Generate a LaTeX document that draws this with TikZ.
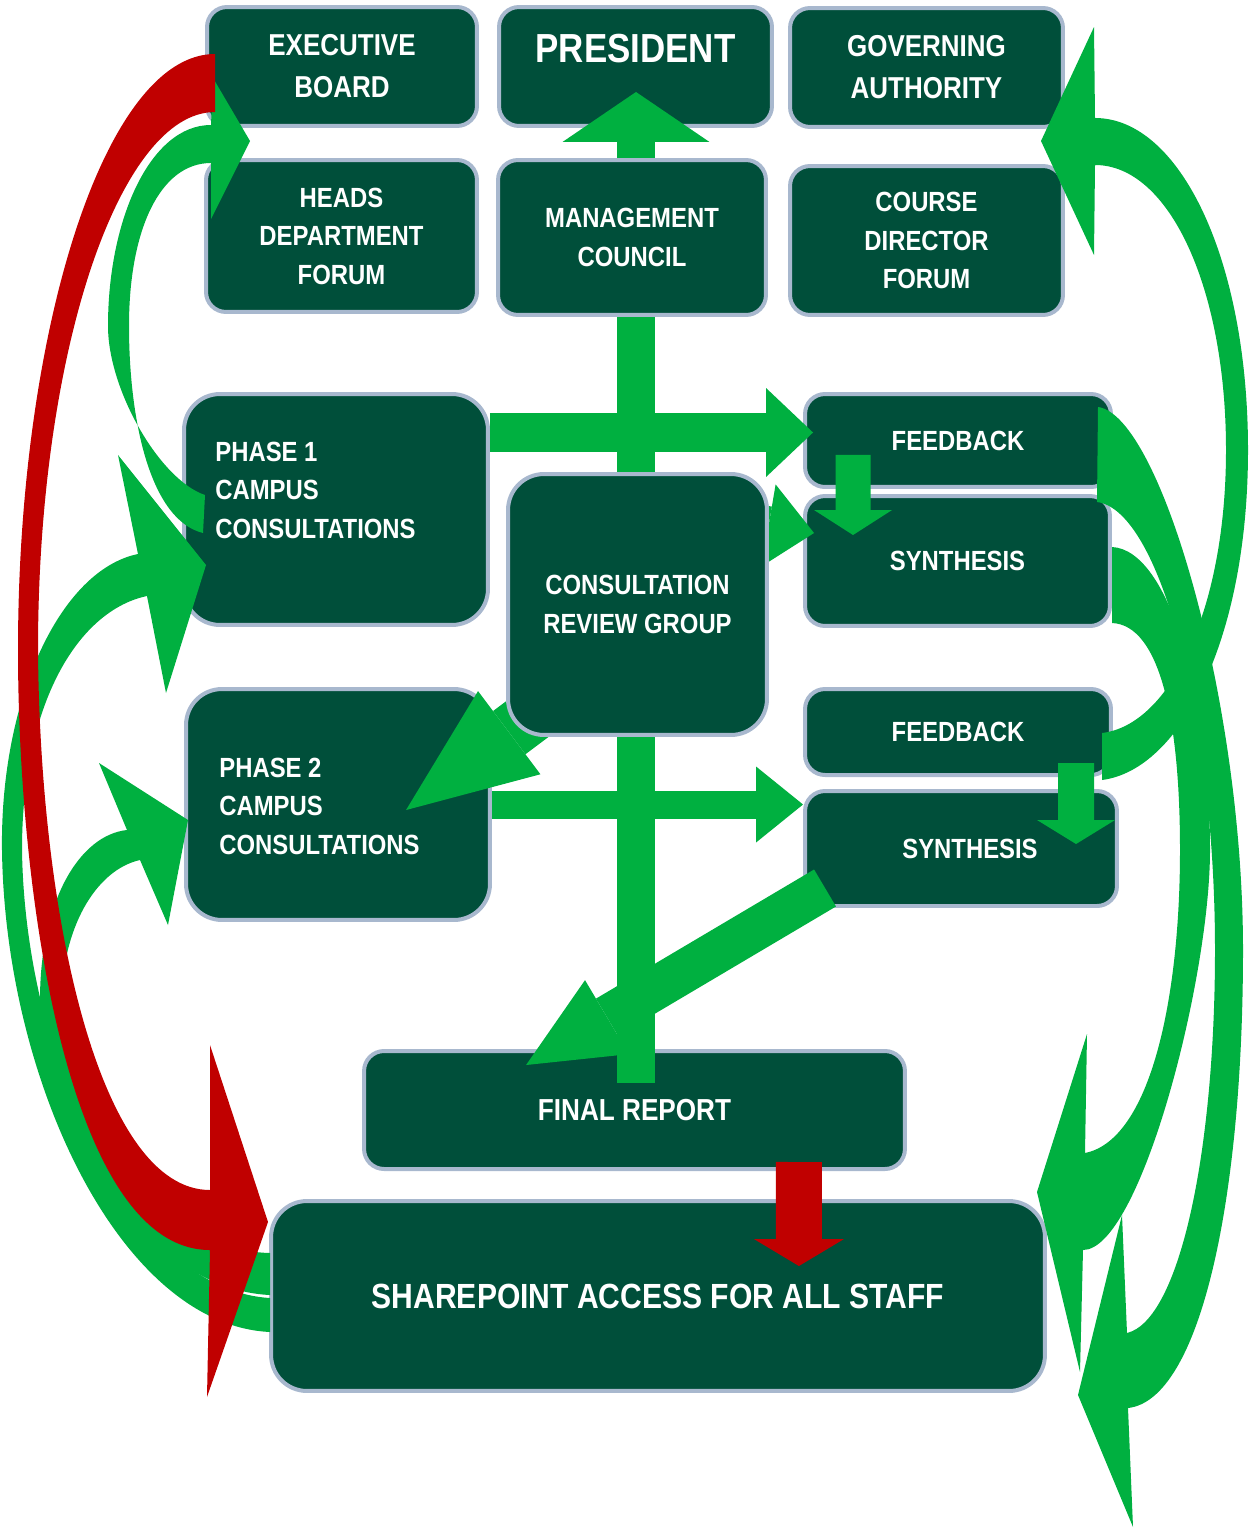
\documentclass[tikz,border=0pt]{standalone}
\usepackage{fontspec}
\setmainfont{Liberation Sans}[FakeStretch=0.86]
\usetikzlibrary{calc,arrows.meta}

\definecolor{boxgreen}{RGB}{0,79,58}
\definecolor{boxedge}{RGB}{168,184,206}
\definecolor{arrowgreen}{RGB}{0,176,64}
\definecolor{arrowred}{RGB}{192,0,0}

\newcommand{\lblfont}{\bfseries\fontsize{15.8}{21.9}\selectfont}
\newcommand{\toplblfont}{\bfseries\fontsize{17.2}{23.9}\selectfont}
\newcommand{\presfont}{\bfseries\fontsize{23.1}{26}\selectfont}
\newcommand{\reportfont}{\bfseries\fontsize{17.3}{20}\selectfont}
\newcommand{\sharefont}{\bfseries\fontsize{19.9}{23}\selectfont}

\tikzset{
  orgbox/.style={draw=boxedge, fill=boxgreen, line width=0.08cm, rounded corners=0.4cm,
    text=white, align=center, inner sep=0pt, font=\lblfont},
  bigorgbox/.style={orgbox, rounded corners=0.72cm},
  boxlabel/.style={text=white, inner sep=0pt, align=left, anchor=west, font=\lblfont},
  greenbar/.style={arrowgreen, line width=#1},
  redbar/.style={arrowred, line width=#1},
  blockhead/.style 2 args={-{Triangle[length=#1, width=#2, line width=0pt]}},
}

\begin{document}
\begin{tikzpicture}[x=0.02cm, y=-0.02cm]
\useasboundingbox (0,0) rectangle (1250,1528);

% Boxes
\node[orgbox, font=\toplblfont, minimum width=5.40cm, minimum height=2.38cm] (exec) at (342,66.5) {EXECUTIVE\\BOARD};
\node[orgbox, minimum width=5.46cm, minimum height=2.38cm] (pres) at (635.5,66.5) {};
\node[boxlabel, font=\presfont, anchor=center] (pres-label) at (635.5,49) {PRESIDENT};
\node[orgbox, font=\toplblfont, minimum width=5.46cm, minimum height=2.38cm] (gov) at (926.5,67.5) {GOVERNING\\AUTHORITY};
\node[orgbox, minimum width=5.42cm, minimum height=3.04cm] (heads) at (341.5,236) {HEADS\\DEPARTMENT\\FORUM};
\node[orgbox, minimum width=5.36cm, minimum height=3.10cm] (mgmt) at (632,237.5) {MANAGEMENT\\COUNCIL};
\node[orgbox, minimum width=5.46cm, minimum height=2.98cm] (course) at (926.5,240.5) {COURSE\\DIRECTOR\\FORUM};
\node[bigorgbox, minimum width=6.08cm, minimum height=4.62cm] (phase1) at (336,509.5) {};
\node[boxlabel] (phase1-label) at (215,490) {PHASE 1\\CAMPUS\\CONSULTATIONS};
\node[bigorgbox, minimum width=6.08cm, minimum height=4.62cm] (phase2) at (338,804.5) {};
\node[boxlabel] (phase2-label) at (219,806) {PHASE 2\\CAMPUS\\CONSULTATIONS};
\node[orgbox, minimum width=6.12cm, minimum height=1.86cm] (fb1) at (958,440.5) {FEEDBACK};
\node[orgbox, minimum width=6.10cm, minimum height=2.60cm] (syn1) at (957.5,561) {SYNTHESIS};
\node[orgbox, minimum width=6.12cm, minimum height=1.72cm] (fb2) at (958,732) {FEEDBACK};
\node[orgbox, minimum width=6.24cm, minimum height=2.30cm] (syn2) at (961,848.5) {\hspace{0.36cm}SYNTHESIS};
\node[orgbox, font=\reportfont, minimum width=10.82cm, minimum height=2.36cm] (final) at (634.5,1110) {FINAL REPORT};
\node[bigorgbox, font=\sharefont, minimum width=15.48cm, minimum height=3.80cm] (share) at (658,1296) {SHAREPOINT ACCESS FOR ALL STAFF};

% Spine, and the arrows that leave from under the review group
\coordinate (spine) at (636,0);
\coordinate (spine-end) at ($(final.north -| spine)+(0,34)$);
\coordinate (crg-pos) at (637.5,604.5);
\draw[greenbar=0.76cm] (mgmt.south -| spine) -- (spine-end);
\draw[greenbar=0.76cm, blockhead={0.92cm}{1.66cm}] ($(crg-pos)+(20,-98)$) -- ($(syn1.west)+(11,-28)$);
\draw[greenbar=1.08cm, blockhead={2.58cm}{2.08cm}] ($(crg-pos)+(-40,62)$) -- ($(phase2.north west)+(222,123)$);

\node[bigorgbox, minimum width=5.18cm, minimum height=5.22cm] (crg) at (crg-pos) {CONSULTATION\\REVIEW GROUP};

% Council up to the president
\draw[greenbar=0.76cm, blockhead={1cm}{2.94cm}] (mgmt.north -| spine) -- ($(pres.south -| spine)+(0,-36)$);

% Phases out to feedback and synthesis
\coordinate (fb1-tip) at ($(fb1.west)+(10,-8)$);
\draw[greenbar=0.78cm, blockhead={0.94cm}{1.78cm}] (phase1.east |- fb1-tip) -- (fb1-tip);
\draw[greenbar=0.56cm, blockhead={0.94cm}{1.52cm}] (phase2.east) -- (phase2.east -| syn2.west);

% Feedback down to synthesis
\draw[greenbar=0.70cm, blockhead={0.5cm}{1.56cm}] ($(fb1.south west)+(50,-34)$) -- ($(syn1.north west)+(50,41)$);
\draw[greenbar=0.72cm, blockhead={0.48cm}{1.56cm}] ($(fb2.south west)+(273,-14)$) -- ($(syn2.north west)+(273,55)$);

% Synthesis to the report, report to sharepoint
\draw[greenbar=0.86cm, blockhead={1.88cm}{1.72cm}] ($(syn2.south west)+(22,-20)$) -- ($(final.north west)+(164,16)$);
\draw[redbar=0.92cm, blockhead={0.54cm}{1.8cm}] ($(final.south east)+(-108,-9)$) -- ($(share.north east)+(-248,67)$);

% Curved loops, left side
% phase 1 up to the executive board
\fill[arrowgreen] (211,125) .. controls (150,125) and (108,220) .. (108,326)
  .. controls (108,390) and (160,480) .. (205,495) -- (203,533)
  .. controls (150,520) and (129,420) .. (129,326)
  .. controls (129,230) and (160,163) .. (211,163)
  -- (211,219) -- (250,141) -- (213,78) -- cycle;
% sharepoint round to phase 1
\fill[arrowgreen] (270,1332) .. controls (120,1325) and (5,1080) .. (2,850)
  .. controls (0,700) and (60,570) .. (138,554)
  -- (118,455) -- (206,565) -- (166,693) -- (147,596)
  .. controls (80,610) and (22,700) .. (22,850)
  .. controls (25,1060) and (130,1290) .. (270,1298) -- cycle;
% sharepoint round to phase 2
\fill[arrowgreen] (270,1295) .. controls (150,1290) and (40,1130) .. (40,1000)
  .. controls (40,900) and (80,835) .. (127,830)
  -- (99,763) -- (188,820) -- (168,925) -- (140,860)
  .. controls (95,870) and (62,930) .. (62,1000)
  .. controls (62,1120) and (150,1250) .. (270,1253) -- cycle;

% Curved loops, right side
% second feedback up to the governing authority
\fill[arrowgreen] (1102,780) .. controls (1180,770) and (1248,640) .. (1248,450)
  .. controls (1248,260) and (1180,118) .. (1095,118)
  -- (1094,27) -- (1041,141) -- (1094,255) -- (1095,165)
  .. controls (1170,165) and (1226,290) .. (1226,450)
  .. controls (1226,610) and (1170,725) .. (1102,733) -- cycle;
% first feedback down past sharepoint
\fill[arrowgreen] (1098,407) .. controls (1160,415) and (1243,700) .. (1243,950)
  .. controls (1243,1200) and (1200,1400) .. (1128,1408)
  -- (1133,1527) -- (1078,1395) -- (1122,1215) -- (1127,1333)
  .. controls (1180,1320) and (1215,1150) .. (1215,950)
  .. controls (1215,720) and (1160,510) .. (1097,502) -- cycle;
% first synthesis down to sharepoint
\fill[arrowgreen] (1112,547) .. controls (1170,550) and (1210,700) .. (1210,850)
  .. controls (1210,980) and (1140,1250) .. (1083,1250)
  -- (1080,1372) -- (1037,1192) -- (1087,1034) -- (1085,1153)
  .. controls (1150,1140) and (1180,1000) .. (1180,850)
  .. controls (1180,720) and (1160,625) .. (1112,623) -- cycle;

% Executive board down to sharepoint
\fill[arrowred] (215,54) .. controls (105,54) and (18,330) .. (18,650)
  .. controls (18,900) and (70,1250) .. (210,1250)
  -- (207,1397) -- (268,1222) -- (210,1045) -- (210,1190)
  .. controls (100,1190) and (40,920) .. (38,650)
  .. controls (38,350) and (120,112) .. (215,112) -- cycle;
\end{tikzpicture}
\end{document}
